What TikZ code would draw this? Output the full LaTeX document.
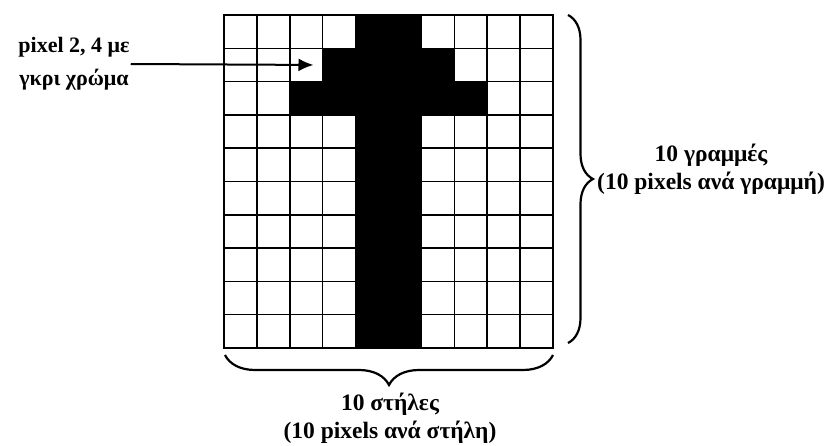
\documentclass[tikz,border=0pt]{standalone}
\usepackage{fontspec}
\setmainfont{Liberation Serif}
\usetikzlibrary{arrows.meta,decorations.pathreplacing}

\begin{document}
\begin{tikzpicture}[x=1pt,y=1pt,
  lbl/.style={font=\fontsize{23.5}{28}\selectfont\bfseries,align=center,inner sep=1pt},
  bracepath/.style={line width=2.2pt,decorate,decoration={brace,amplitude=#1}}]
\useasboundingbox (0,0) rectangle (838,445);
\begin{scope}[shift={(224,97)},x=32.9pt,y=33.3pt]
\fill (4,0) rectangle (6,10);
\fill (3,8) rectangle (7,9);
\fill (2,7) rectangle (8,8);
\foreach \i in {1,...,9} {
  \draw[line width=1.5pt] (\i,0) -- (\i,10);
  \draw[line width=1.5pt] (0,\i) -- (10,\i);
}
\draw[line width=2.2pt] (0,0) rectangle (10,10);
\coordinate (px24) at (2.72,8.5);
\end{scope}
\node[lbl,font=\fontsize{22}{33}\selectfont\bfseries] (pxlabel) at (74,381) {pixel 2, 4 με\\γκρι χρώμα};
\draw[line width=2pt,-{Latex[length=15pt,width=13pt]}] (pxlabel.east) -- (px24);
\draw[bracepath=25pt] (568,430) -- (568,102);
\draw[bracepath=30pt] (553,90) -- (225,90);
\node[lbl,anchor=west] (rows) at (596,276) {10 γραμμές\\(10 pixels ανά γραμμή)};
\node[lbl] (cols) at (390,27) {10 στήλες\\(10 pixels ανά στήλη)};
\end{tikzpicture}
\end{document}
